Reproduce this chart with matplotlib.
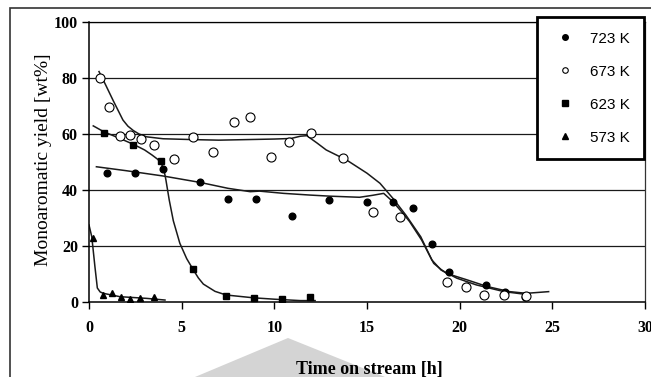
"""
Monoaromatic yield vs time on stream at four temperatures
"""

import matplotlib
matplotlib.use('Agg')
import matplotlib.pyplot as plt
from matplotlib.patches import Rectangle, Polygon

# --- data ---
t_723 = [0.95, 2.5, 3.97, 6.0, 7.5, 9.0, 10.95, 12.97, 15.0, 16.4, 17.5, 18.5, 19.4, 21.4, 22.45, 23.5]
y_723 = [46, 46, 47.5, 42.7, 36.8, 36.8, 30.8, 36.4, 35.8, 35.7, 33.4, 20.7, 10.8, 6.1, 3.7, 1.9]

t_673 = [0.6, 1.1, 1.67, 2.2, 2.8, 3.5, 4.6, 5.6, 6.7, 7.8, 8.7, 9.8, 10.8, 12.0, 13.7,
         15.3, 16.8, 19.3, 20.35, 21.3, 22.4, 23.6]
y_673 = [80, 69.6, 59.3, 59.6, 58.1, 56, 51, 59, 53.6, 64.3, 66, 51.8, 57.1, 60.4, 51.4,
         32.3, 30.3, 7.1, 5.5, 2.5, 2.5, 2.1]

t_623 = [0.8, 2.4, 3.9, 5.6, 7.4, 8.9, 10.4, 11.9]
y_623 = [60.5, 56, 50.5, 11.8, 2.1, 1.3, 1.1, 1.7]

t_573 = [0.2, 0.74, 1.22, 1.7, 2.2, 2.75, 3.5]
y_573 = [22.7, 2.5, 3.1, 1.7, 1.0, 1.4, 1.7]

# smoothed trend lines (traced)
fit_t_723 = [0.4, 2.0, 4.0, 6.0, 7.5, 8.7, 9.2, 10.5, 11.9, 13.0, 14.6, 15.3, 15.9, 16.4,
             16.9, 17.3, 17.95, 18.3, 18.6, 19.0, 19.3, 20.4, 21.5, 22.7, 23.6, 24.8]
fit_y_723 = [48.3, 46.9, 45.0, 42.7, 40.6, 39.4, 39.6, 38.8, 38.2, 37.8, 37.4, 38.1, 38.8, 35.8,
             32.0, 28.7, 22.1, 17.6, 13.8, 11.6, 10.2, 7.9, 5.5, 3.7, 3.1, 3.7]

fit_t_673 = [0.54, 0.9, 1.3, 1.83, 2.1, 2.4, 2.7, 3.1, 4.0, 5.6, 7.0, 8.5, 10.0, 10.9, 11.4,
             11.75, 12.3, 12.8, 13.9, 15.0, 15.7, 16.4, 17.1, 17.9, 18.5, 19.0, 19.85, 20.9,
             22.4, 23.6]
fit_y_673 = [82.3, 77.5, 72, 65, 62.8, 61.2, 60, 59, 58.3, 58, 57.8, 58, 58.2, 58.4, 59.2,
             59.4, 56.8, 54.3, 50.7, 46, 42.4, 37, 31, 23.3, 15, 11.4, 8.5, 6.1, 3.7, 2.7]

fit_t_623 = [0.23, 0.8, 1.6, 2.4, 3.0, 3.4, 3.7, 3.9, 4.05, 4.15, 4.33, 4.55, 4.9, 5.27, 5.6,
             5.9, 6.17, 6.8, 7.4, 8.87, 10.0, 11.4, 12.2]
fit_y_623 = [62.9, 60.8, 58.6, 56.3, 54.3, 52.5, 51.0, 49.5, 47.0, 43.6, 36.4, 29.0, 21.0, 15.5,
             11.8, 8.6, 6.4, 3.8, 2.5, 1.5, 1.0, 0.5, 0.5]

fit_t_573 = [0.0, 0.15, 0.32, 0.45, 0.6, 0.77, 1.67, 3.1, 4.1]
fit_y_573 = [27.5, 23.3, 12.6, 5.0, 3.6, 3.1, 1.9, 1.3, 0.7]

labels = ['723 K', '673 K', '623 K', '573 K']
x_ticks = [0, 5, 10, 15, 20, 25, 30]
y_ticks = [0, 20, 40, 60, 80, 100]

serif = 'Liberation Serif'
line_c = '#1a1a1a'

fig = plt.figure(figsize=(6.51, 3.77), dpi=100)
ax = fig.add_axes([89 / 651, 1 - 302 / 377, 556 / 651, 280 / 377])
ax.set_zorder(2)
ax.patch.set_alpha(0)

# outer frame and grey watermark shape
fig.patches.append(Rectangle((10 / 651, -0.1), 1.2, 1.1 - 8 / 377, transform=fig.transFigure,
                             fill=False, edgecolor='#333333', linewidth=1.2, zorder=0))
fig.patches.append(Polygon([(195 / 651, 0), (288 / 651, 1 - 338 / 377), (385 / 651, 0)],
                           closed=True, transform=fig.transFigure, facecolor='#d4d4d4',
                           edgecolor='none', zorder=0))

# grid lines
for yv in y_ticks[1:]:
    ax.axhline(yv, color=line_c, linewidth=0.9, zorder=1)

# trend lines
ax.plot(fit_t_723, fit_y_723, color=line_c, linewidth=1.1, zorder=2)
ax.plot(fit_t_673, fit_y_673, color=line_c, linewidth=1.1, zorder=2)
ax.plot(fit_t_623, fit_y_623, color=line_c, linewidth=1.1, zorder=2)
ax.plot(fit_t_573, fit_y_573, color=line_c, linewidth=1.1, zorder=2)

# measured points
ax.plot(t_723, y_723, linestyle='none', marker='o', markersize=4.8, color='black',
        label=labels[0], zorder=3)
ax.plot(t_673, y_673, linestyle='none', marker='o', markersize=6.5, markerfacecolor='white',
        markeredgecolor='black', markeredgewidth=0.8, label=labels[1], zorder=3)
ax.plot(t_623, y_623, linestyle='none', marker='s', markersize=4.3, color='black',
        label=labels[2], zorder=3)
ax.plot(t_573, y_573, linestyle='none', marker='^', markersize=4.0, color='black',
        label=labels[3], zorder=3)

ax.set_xlim(0, 30)
ax.set_ylim(0, 100)
ax.set_xticks(x_ticks)
ax.set_yticks(y_ticks)
ax.set_xticklabels([str(v) for v in x_ticks], fontfamily=serif, fontweight='bold', fontsize=11.5)
ax.set_yticklabels([str(v) for v in y_ticks], fontfamily=serif, fontweight='bold', fontsize=11.5)
ax.tick_params(axis='x', direction='out', length=5, width=1, pad=8, colors='black')
ax.tick_params(axis='y', direction='out', length=5, width=1, pad=3, colors='black')

for side in ['left', 'bottom']:
    ax.spines[side].set_linewidth(1.1)
    ax.spines[side].set_color('black')
ax.spines['top'].set_linewidth(0.9)
ax.spines['right'].set_linewidth(0.9)
ax.spines['right'].set_color('#333333')

ax.set_xlabel('Time on stream [h]', fontfamily=serif, fontweight='bold', fontsize=13)
ax.xaxis.set_label_coords(0.505, -0.21)
ax.set_ylabel('Monoaromatic yield [wt%]', fontfamily=serif, fontsize=14)
ax.yaxis.set_label_coords(-0.066, 0.507)

leg = ax.legend(loc='upper left', bbox_to_anchor=(537 / 651, 1 - 17 / 377),
                bbox_transform=fig.transFigure, frameon=True, fancybox=False,
                framealpha=1, edgecolor='black', borderpad=0.95, labelspacing=1.25,
                handlelength=1.7, handletextpad=0.8, borderaxespad=0,
                prop={'family': 'Liberation Sans', 'size': 11})
leg.get_frame().set_linewidth(2.0)
leg.set_zorder(5)
for h in leg.legend_handles:
    h.set_markersize(4)

fig.savefig('out.png', dpi=100)
